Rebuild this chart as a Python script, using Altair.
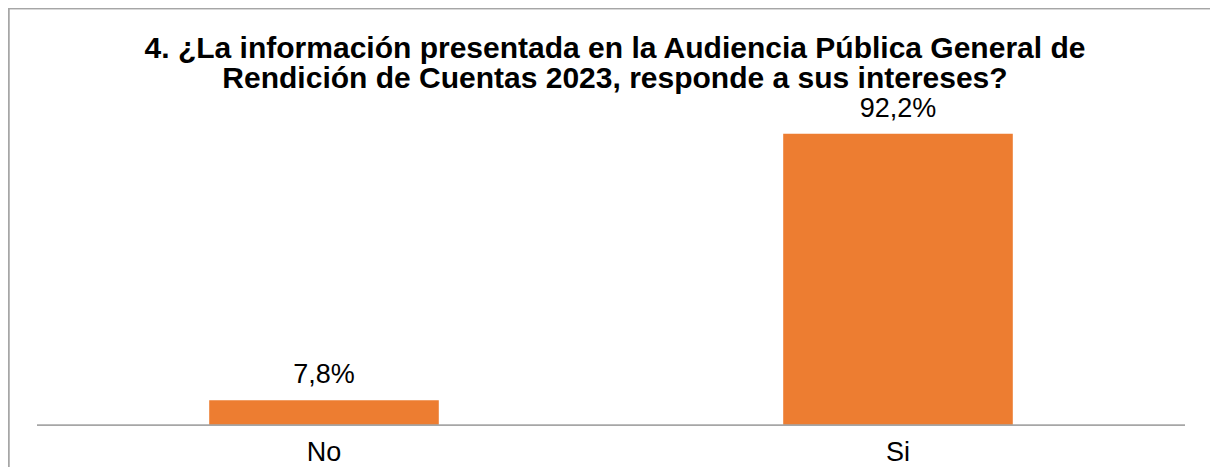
import altair as alt
import pandas as pd

categories = ["No", "Si"]
values = [7.8, 92.2]
value_labels = ["7,8%", "92,2%"]
title_lines = [
    "4. ¿La información presentada en la Audiencia Pública General de",
    "Rendición de Cuentas 2023, responde a sus intereses?",
]

df = pd.DataFrame({"cat": categories, "val": values, "lab": value_labels})

W, H = 1202, 459
FONT = "Liberation Sans"
BORDER = "#a6a6a6"

x_enc = alt.X(
    "cat:N",
    sort=categories,
    axis=None,
    scale=alt.Scale(range=[29, 1177], paddingInner=0.6, paddingOuter=0.3),
)
y_enc = alt.Y(
    "val:Q",
    axis=None,
    scale=alt.Scale(domain=[0, 100], range=[417, 101]),
)

base = alt.Chart(df)

bars = base.mark_bar(color="#ED7D31").encode(x=x_enc, y=y_enc)

data_labels = base.mark_text(
    dy=-17, baseline="alphabetic", fontSize=27, font=FONT, color="#000000"
).encode(x=alt.X("cat:N", sort=categories, axis=None), y=alt.Y("val:Q", axis=None), text="lab:N")

cat_labels = base.mark_text(
    baseline="alphabetic", fontSize=27, font=FONT, color="#000000"
).encode(x=alt.X("cat:N", sort=categories, axis=None), y=alt.value(453), text="cat:N")

baseline_rule = base.mark_rule(color=BORDER, strokeWidth=1.6).encode(
    x=alt.value(29), x2=alt.value(1177), y=alt.value(417.3)
)

top_border = base.mark_rule(color=BORDER, strokeWidth=1.5).encode(
    x=alt.value(0), x2=alt.value(W), y=alt.value(0.5)
)
left_border = base.mark_rule(color=BORDER, strokeWidth=1.5).encode(
    x=alt.value(0.75), y=alt.value(0), y2=alt.value(H)
)

title_df = pd.DataFrame({"t": [0]})
title_mark = alt.Chart(title_df).mark_text(
    text=title_lines,
    fontSize=30,
    font=FONT,
    fontWeight="bold",
    color="#000000",
    align="center",
    baseline="alphabetic",
    lineHeight=30.6,
).encode(x=alt.value(607), y=alt.value(49.7))

chart = (
    alt.layer(bars, baseline_rule, data_labels, cat_labels, top_border, left_border, title_mark)
    .properties(
        width=W,
        height=H,
        padding=0,
        autosize=alt.AutoSizeParams(type="none"),
    )
    .configure_view(strokeWidth=0)
    .configure(background="#ffffff")
)

chart.save("out.html", embed_options={"renderer": "svg", "actions": False})
